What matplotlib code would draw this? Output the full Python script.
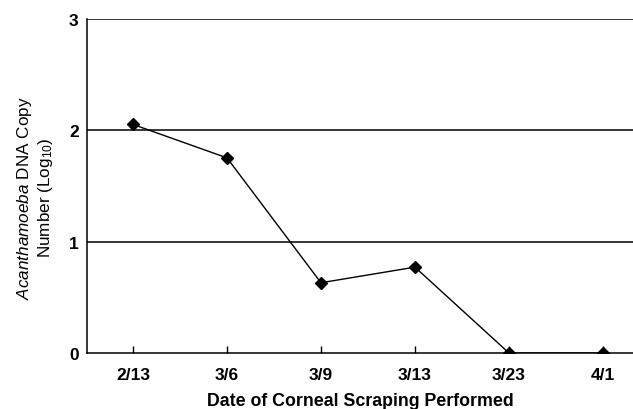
import matplotlib.pyplot as plt

# Acanthamoeba DNA load over successive corneal scrapings
dates = ["2/13", "3/6", "3/9", "3/13", "3/23", "4/1"]
log_copies = [2.05, 1.75, 0.63, 0.77, 0.0, 0.0]
y_ticks = [0, 1, 2, 3]

plt.rcParams['font.family'] = ['Liberation Sans', 'DejaVu Sans']
plt.rcParams['mathtext.fontset'] = 'custom'
plt.rcParams['mathtext.rm'] = 'Liberation Sans'
plt.rcParams['mathtext.it'] = 'Liberation Sans:italic'

fig = plt.figure(figsize=(6.33, 4.10), dpi=100)
ax = fig.add_axes([0.1374, 0.1366, 0.8626, 0.8158])

x = list(range(len(dates)))

# horizontal reference lines at each log step
for yv in y_ticks[1:]:
    ax.axhline(yv, color='black', linewidth=1.1, zorder=1)

ax.plot(x, log_copies, color='black', linewidth=1.0, marker='D',
        markersize=6, markerfacecolor='black', markeredgecolor='black', zorder=3)

ax.set_xlim(-0.49, 5.32)
ax.set_ylim(0, 3)
ax.set_xticks(x)
ax.set_xticklabels(dates, fontsize=12.5, fontweight='bold')
ax.set_yticks(y_ticks)
ax.set_yticklabels([str(v) for v in y_ticks], fontsize=12.5, fontweight='bold')

ax.tick_params(axis='x', direction='in', length=5, width=1, pad=10)
ax.tick_params(axis='y', length=0, pad=6)

ax.spines['top'].set_visible(False)
ax.spines['right'].set_visible(False)
ax.spines['left'].set_linewidth(1.1)
ax.spines['bottom'].set_linewidth(1.1)

ax.set_xlabel("Date of Corneal Scraping Performed", fontsize=12.8,
              fontweight='bold', labelpad=7)
ax.set_ylabel("$\\mathit{Acanthamoeba}$ DNA Copy\nNumber (Log$_{10}$)",
              fontsize=12.3)
ax.yaxis.set_label_coords(-0.058, 0.466)

fig.savefig("out.png", dpi=100)
